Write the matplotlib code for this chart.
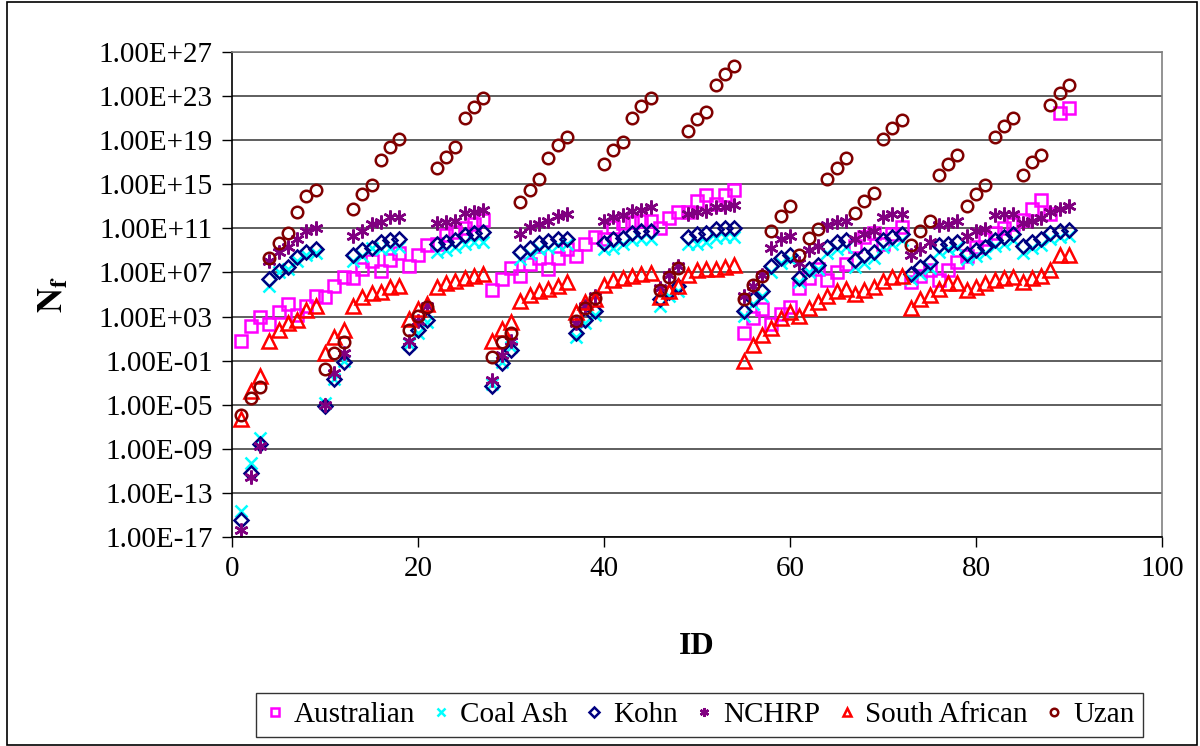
import numpy as np
import matplotlib
matplotlib.use('Agg')
import matplotlib.pyplot as plt
from matplotlib.patches import Rectangle
from matplotlib.ticker import FixedLocator, FuncFormatter

plt.rcParams['font.family'] = ['Liberation Serif', 'DejaVu Serif']
plt.rcParams['mathtext.fontset'] = 'stix'

# ID 1..90, values as log10(Nf)
ids = list(range(1, 91))

australian_exp = [
    0.8, 2.1, 3.0, 2.3, 3.4, 4.1, 3.1, 4.0, 4.9,
    4.8, 5.8, 6.6, 6.5, 7.3, 8.0, 7.1, 8.1, 8.8,
    7.55, 8.55, 9.45, 9.6, 10.4, 10.7, 11.0, 11.4, 11.8,
    5.4, 6.4, 7.4, 6.7, 7.8, 8.3, 7.3, 8.3, 9.1,
    8.5, 9.55, 10.25, 10.0, 11.1, 11.5, 11.6, 11.7, 11.7,
    11.07, 11.9, 12.5, 12.5, 13.5, 14.0, 13.2, 14.0, 14.5,
    1.5, 2.9, 3.7, 2.3, 3.2, 3.9, 5.6, 6.5, 7.3,
    6.3, 7.0, 7.8, 9.4, 10.2, 10.6, 9.6, 10.5, 11.1,
    6.1, 6.7, 7.2, 6.35, 7.25, 7.95, 8.5, 9.3, 10.0,
    10.6, 11.0, 11.4, 11.8, 12.8, 13.6, 12.3, 21.5, 21.9]

coal_ash_exp = [
    -14.6, -10.3, -8.0, 5.8, 7.0, 7.3, 8.0, 8.6, 8.8,
    -4.8, -2.7, -1.0, 8.0, 8.5, 9.2, 9.15, 9.2, 9.3,
    0.5, 1.5, 2.5, 8.85, 9.0, 9.3, 9.6, 9.75, 9.75,
    -3.15, -1.1, 0.2, 8.2, 8.65, 9.1, 9.25, 9.45, 9.55,
    1.1, 2.45, 3.1, 9.1, 9.25, 9.55, 9.9, 10.06, 10.06,
    4.0, 4.9, 5.3, 9.6, 9.6, 9.8, 10.1, 10.2, 10.2,
    3.05, 4.1, 4.9, 7.0, 7.9, 8.2, 6.1, 7.0, 7.3,
    8.8, 9.1, 9.3, 7.5, 7.9, 8.3, 9.3, 9.6, 9.9,
    6.4, 6.9, 7.4, 8.9, 9.1, 9.3, 8.2, 8.5, 8.8,
    9.4, 9.6, 9.9, 8.8, 9.2, 9.5, 10.0, 10.2, 10.3]

kohn_exp = [
    -15.5, -11.2, -8.6, 6.4, 7.1, 7.5, 8.4, 8.9, 9.1,
    -5.1, -2.7, -1.1, 8.55, 9.0, 9.2, 9.76, 9.9, 10.06,
    0.2, 1.8, 2.7, 9.6, 9.76, 9.97, 10.4, 10.6, 10.67,
    -3.3, -1.2, 0.0, 8.9, 9.2, 9.65, 9.85, 10.0, 10.06,
    1.5, 2.7, 3.5, 9.65, 10.0, 10.15, 10.6, 10.8, 10.8,
    4.6, 5.2, 5.8, 10.25, 10.5, 10.6, 10.9, 11.07, 11.07,
    3.5, 4.6, 5.3, 7.6, 8.3, 8.6, 6.5, 7.3, 7.65,
    9.3, 9.8, 9.9, 8.1, 8.55, 8.85, 9.9, 10.2, 10.45,
    6.9, 7.5, 7.95, 9.45, 9.6, 9.76, 8.7, 9.06, 9.3,
    9.97, 10.2, 10.5, 9.4, 9.8, 10.06, 10.6, 10.8, 10.85]

nchrp_exp = [
    -16.4, -11.6, -8.7, 8.0, 8.9, 9.3, 10.06, 10.8, 11.0,
    -5.0, -2.1, -0.3, 10.3, 10.8, 11.4, 11.6, 12.0, 12.0,
    0.8, 2.6, 4.0, 11.5, 11.6, 11.7, 12.4, 12.5, 12.7,
    -2.75, -0.5, 0.8, 10.5, 11.1, 11.4, 11.7, 12.1, 12.3,
    2.4, 4.0, 4.9, 11.7, 12.0, 12.2, 12.6, 12.7, 12.9,
    5.6, 6.8, 7.6, 12.3, 12.5, 12.6, 12.9, 12.9, 13.1,
    4.9, 5.8, 6.8, 9.25, 10.06, 10.3, 7.9, 9.0, 9.4,
    11.3, 11.6, 11.65, 10.06, 10.5, 10.8, 12.0, 12.3, 12.3,
    8.55, 9.15, 9.75, 11.3, 11.4, 11.7, 10.3, 10.75, 10.9,
    12.2, 12.3, 12.3, 11.5, 11.7, 11.9, 12.5, 12.8, 13.0]

south_african_exp = [
    -6.3, -3.75, -2.4, 0.8, 1.8, 2.45, 2.7, 3.6, 4.0,
    -0.3, 1.15, 1.8, 4.0, 4.8, 5.1, 5.2, 5.7, 5.8,
    2.8, 3.7, 4.1, 5.7, 6.0, 6.2, 6.5, 6.7, 6.9,
    0.8, 1.9, 2.5, 4.4, 5.0, 5.3, 5.5, 5.8, 6.1,
    3.4, 4.3, 4.6, 5.9, 6.3, 6.5, 6.7, 6.84, 6.95,
    4.8, 5.3, 5.8, 6.75, 7.2, 7.3, 7.35, 7.5, 7.65,
    -1.0, 0.4, 1.3, 2.0, 2.9, 3.4, 3.05, 3.8, 4.3,
    4.9, 5.3, 5.5, 5.07, 5.4, 5.7, 6.2, 6.6, 6.7,
    3.8, 4.6, 5.0, 5.5, 6.0, 6.0, 5.4, 5.7, 6.0,
    6.3, 6.5, 6.6, 6.1, 6.5, 6.7, 7.2, 8.55, 8.55]

uzan_exp = [
    -5.9, -4.4, -3.4, 8.3, 9.7, 10.6, 12.5, 13.9, 14.5,
    -1.8, -0.3, 0.7, 12.8, 14.1, 14.9, 17.2, 18.4, 19.1,
    1.75, 3.05, 3.9, 16.5, 17.5, 18.4, 21.0, 22.0, 22.8,
    -0.7, 0.7, 1.5, 13.4, 14.5, 15.5, 17.4, 18.6, 19.26,
    2.6, 3.8, 4.7, 16.8, 18.1, 18.8, 21.0, 22.1, 22.8,
    5.4, 6.6, 7.4, 19.8, 20.9, 21.56, 24.0, 25.0, 25.7,
    4.6, 5.9, 6.7, 10.8, 12.1, 13.0, 8.6, 10.1, 10.9,
    15.45, 16.5, 17.4, 12.4, 13.5, 14.2, 19.1, 20.1, 20.8,
    9.5, 10.8, 11.7, 15.8, 16.8, 17.7, 13.0, 14.1, 14.9,
    19.3, 20.3, 21.0, 15.8, 17.0, 17.7, 22.2, 23.25, 24.0]

series = [
    ('Australian', australian_exp, 's', '#FF00FF', 8.3),
    ('Coal Ash', coal_ash_exp, 'x', '#00FFFF', 8.3),
    ('Kohn', kohn_exp, 'D', '#000080', 7.2),
    ('NCHRP', nchrp_exp, (6, 2, 0), '#800080', 10),
    ('South African', south_african_exp, '^', '#FF0000', 9.5),
    ('Uzan', uzan_exp, 'o', '#800000', 8.3),
]

fig = plt.figure(figsize=(12, 7.46), dpi=100)
ax = fig.add_axes([232 / 1200, 1 - 537 / 746, 930 / 1200, 485 / 746])

for name, exps, mk, col, ms in series:
    vals = 10.0 ** np.array(exps)
    ax.plot(ids, vals, linestyle='none', marker=mk, markersize=ms,
            markerfacecolor='none', markeredgecolor=col, markeredgewidth=1.8,
            color=col, label=name)

ax.set_yscale('log')
ax.set_ylim(1e-17, 1e27)
ax.set_xlim(0, 100)
yticks = [10.0 ** e for e in range(-17, 28, 4)]
ax.yaxis.set_major_locator(FixedLocator(yticks))
ax.yaxis.set_minor_locator(FixedLocator([]))
ax.yaxis.set_major_formatter(FuncFormatter(lambda v, p: f"{v:.2E}"))
ax.set_xticks(range(0, 101, 20))

ax.grid(axis='y', color='#333333', linewidth=1.1)
ax.set_axisbelow(True)
ax.tick_params(axis='both', direction='out', length=7, width=1,
               labelsize=21, pad=7)
for s in ['left', 'bottom']:
    ax.spines[s].set_color('black')
    ax.spines[s].set_linewidth(1.2)
for s in ['top', 'right']:
    ax.spines[s].set_color('#808080')
    ax.spines[s].set_linewidth(1.2)

ax.set_xlabel('ID', fontsize=23, fontweight='bold', labelpad=36)
ax.set_ylabel(r'$\mathbf{N_f}$', fontsize=25, labelpad=20)

leg = fig.legend(loc='center', bbox_to_anchor=(0.583, 0.042), ncol=6,
                 fontsize=21, frameon=True, fancybox=False, markerscale=0.65,
                 handlelength=0.7, handletextpad=0.3, columnspacing=0.55,
                 borderpad=0.3, edgecolor='black')
leg.get_frame().set_linewidth(1.0)

fig.patches.append(Rectangle((7 / 1200, 1 / 746), 1190 / 1200, 743 / 746,
                             transform=fig.transFigure, fill=False,
                             edgecolor='black', linewidth=1.2))

fig.savefig('out.png', dpi=100)
